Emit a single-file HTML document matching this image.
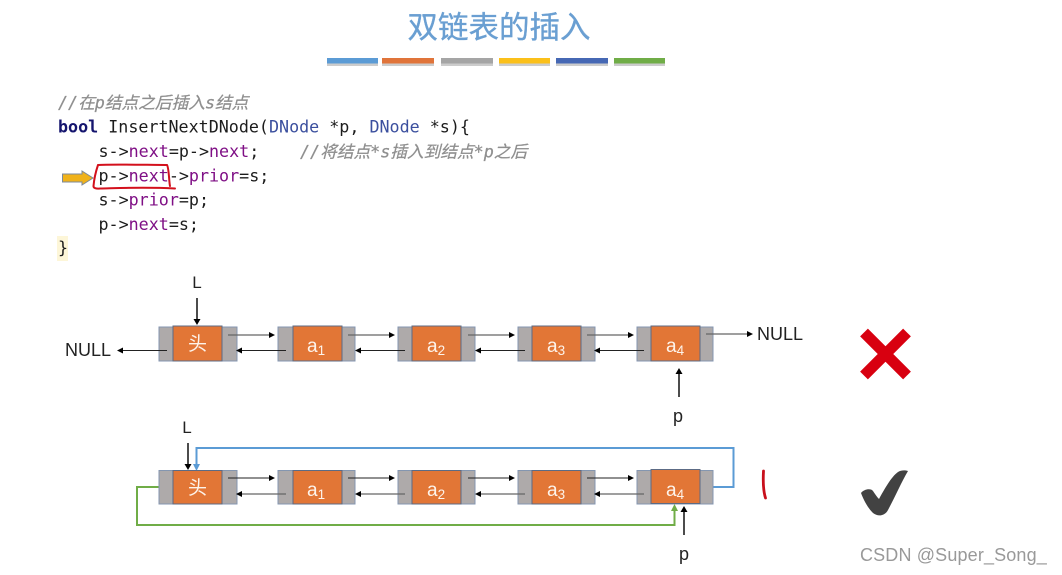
<!DOCTYPE html>
<html><head><meta charset="utf-8"><style>
html,body{margin:0;padding:0;background:#fff}
svg{display:block;filter:blur(.35px)}
.c{font-family:"DejaVu Sans Mono","Noto Sans CJK SC",monospace;font-size:16.7px;fill:#1c1c1c}
.k{fill:#7f0f85}.t{fill:#3b4f9e}
.cm{fill:#8f8f8f;stroke:#8f8f8f;stroke-width:.25}
.i{font-style:italic}
.n{font-family:"Liberation Sans","Noto Sans CJK SC",sans-serif;font-size:18px;fill:#222}
.w{font-family:"Liberation Sans","Noto Sans CJK SC",sans-serif;fill:#fdf3ea;font-size:19px}
.g{fill:#aeaaaa;stroke:#8496b0;stroke-width:1}
.o{fill:#e27636;stroke:#5c6b85;stroke-width:1}
.a{stroke:#222;stroke-width:1.1;fill:none}
.a2{stroke:#666;stroke-width:1.3;fill:none}
.h{fill:#000}
</style></head><body>
<svg width="1062" height="575" viewBox="0 0 1062 575" xmlns="http://www.w3.org/2000/svg">
<rect width="1062" height="575" fill="#fff"/>
<text x="499" y="38" text-anchor="middle" font-family="'Liberation Sans','Noto Sans CJK SC',sans-serif" font-size="30.5" fill="#6a9fd2" stroke="#6a9fd2" stroke-width=".35">双链表的插入</text>
<g>
<rect x="327" y="60" width="51" height="6" fill="#ccc"/><rect x="382" y="60" width="52" height="6" fill="#ccc"/><rect x="441" y="60" width="52" height="6" fill="#ccc"/><rect x="499" y="60" width="51" height="6" fill="#ccc"/><rect x="556" y="60" width="52" height="6" fill="#ccc"/><rect x="614" y="60" width="51" height="6" fill="#ccc"/>
<rect x="327" y="58" width="51" height="5.500" fill="#5b9bd5"/><rect x="382" y="58" width="52" height="5.500" fill="#e0743a"/><rect x="441" y="58" width="52" height="5.500" fill="#a5a5a5"/><rect x="499" y="58" width="51" height="5.500" fill="#fbc01a"/><rect x="556" y="58" width="52" height="5.500" fill="#4668b4"/><rect x="614" y="58" width="51" height="5.500" fill="#70ad47"/>
</g>

<rect x="57" y="236" width="11" height="25" fill="#fdf6d8"/>
<text class="c cm i" x="58" y="108.500" style="font-size:16.700px">//在p结点之后插入s结点</text>
<text class="c" x="58" y="132.500"><tspan style="fill:#15156e;font-weight:bold">bool</tspan> InsertNextDNode(<tspan class="t">DNode</tspan> *p, <tspan class="t">DNode</tspan> *s){</text>
<text class="c" x="98.500" y="157">s-&gt;<tspan class="k">next</tspan>=p-&gt;<tspan class="k">next</tspan>;</text>
<text class="c cm i" x="300" y="157.500" style="font-size:16.700px">//将结点*s插入到结点*p之后</text>
<text class="c" x="98.500" y="181.500">p-&gt;<tspan class="k">next</tspan>-&gt;<tspan class="k">prior</tspan>=s;</text>
<text class="c" x="98.500" y="205.500">s-&gt;<tspan class="k">prior</tspan>=p;</text>
<text class="c" x="98.500" y="230">p-&gt;<tspan class="k">next</tspan>=s;</text>
<text class="c" x="58" y="253.500">}</text>

<path d="M62.500 174H82V171L93 178L82 185V182H62.500Z" fill="#f0b21a" stroke="#7d8a99" stroke-width="1"/>
<path d="M98 165C96 171 94 180 93.500 186C93.300 188 96 189 100 188.500C122 188 145 187 175 188.500M98 165C112 164 150 165 167 165C169 168 169 182 170 186" fill="none" stroke="#d3101c" stroke-width="2" stroke-linecap="round"/>

<g>
<rect class="g" x="159" y="327" width="78" height="34"/><rect class="o" x="173" y="326" width="49" height="35"/>
<rect class="g" x="278" y="327" width="77" height="34"/><rect class="o" x="293" y="326" width="49" height="35"/>
<rect class="g" x="398" y="327" width="77" height="34"/><rect class="o" x="412" y="326" width="49" height="35"/>
<rect class="g" x="518" y="327" width="77" height="34"/><rect class="o" x="532" y="326" width="49" height="35"/>
<rect class="g" x="637" y="327" width="76" height="34"/><rect class="o" x="651" y="326" width="49" height="35"/>
</g>
<text class="w" x="197.500" y="350" text-anchor="middle">头</text>
<text class="w" x="307" y="352">a<tspan font-size="13.500" dy="3">1</tspan></text>
<text class="w" x="427" y="352">a<tspan font-size="13.500" dy="3">2</tspan></text>
<text class="w" x="547" y="352">a<tspan font-size="13.500" dy="3">3</tspan></text>
<text class="w" x="666" y="352">a<tspan font-size="13.500" dy="3">4</tspan></text>

<path class="a2" d="M228 335H270M348 335H390M468 335H510M587 335H629M706 334H748"/>
<path class="h" d="M275 335l-6-3v6zM395 335l-6-3v6zM515 335l-6-3v6zM634 335l-6-3v6zM753 334l-6-3v6z"/>
<path class="a" d="M167 350.500H122M286 350.500H241M405 350.500H360M525 350.500H480M644 350.500H599"/>
<path class="h" d="M117 350.500l6-3v6zM236 350.500l6-3v6zM355 350.500l6-3v6zM475 350.500l6-3v6zM594 350.500l6-3v6z"/>
<path d="M197 298V320" stroke="#111" stroke-width="1.500"/><path class="h" d="M197 325l-3.500-6h7z"/>
<path d="M679 397V373" stroke="#111" stroke-width="1.500"/><path class="h" d="M679 368l-3.500 6h7z"/>
<text class="n" x="197" y="288" text-anchor="middle" style="font-size:17px">L</text>
<text class="n" x="65" y="356">NULL</text>
<text class="n" x="757" y="340">NULL</text>
<text class="n" x="678" y="422" text-anchor="middle">p</text>

<path d="M713 487H733.500V448H196.500V465" fill="none" stroke="#5b9bd5" stroke-width="2"/>
<path style="fill:#5b9bd5" d="M196.500 471l-3.500-7h7z"/>
<path d="M159 487H137V525H674.500V510" fill="none" stroke="#70ad47" stroke-width="2"/>
<path style="fill:#70ad47" d="M674.500 504l-3.500 7h7z"/>

<g>
<rect class="g" x="159" y="470.500" width="78" height="33.500"/><rect class="o" x="173" y="470.500" width="49" height="33.500"/>
<rect class="g" x="278" y="470.500" width="77" height="33.500"/><rect class="o" x="293" y="470.500" width="49" height="33.500"/>
<rect class="g" x="398" y="470.500" width="77" height="33.500"/><rect class="o" x="412" y="470.500" width="49" height="33.500"/>
<rect class="g" x="518" y="470.500" width="77" height="33.500"/><rect class="o" x="532" y="470.500" width="49" height="33.500"/>
<rect class="g" x="637" y="470.500" width="76" height="33.500"/><rect class="o" x="651" y="469.500" width="49" height="34"/>
</g>
<text class="w" x="197.500" y="494" text-anchor="middle">头</text>
<text class="w" x="307" y="496">a<tspan font-size="13.500" dy="3">1</tspan></text>
<text class="w" x="427" y="496">a<tspan font-size="13.500" dy="3">2</tspan></text>
<text class="w" x="547" y="496">a<tspan font-size="13.500" dy="3">3</tspan></text>
<text class="w" x="666" y="496">a<tspan font-size="13.500" dy="3">4</tspan></text>

<path class="a" d="M228 478H270M348 478H390M468 478H510M587 478H629"/>
<path class="h" d="M275 478l-6-3v6zM395 478l-6-3v6zM515 478l-6-3v6zM634 478l-6-3v6z"/>
<path class="a2" d="M286 494H241M405 494H360M525 494H480M644 494H599"/>
<path class="h" d="M236 494l6-3v6zM355 494l6-3v6zM475 494l6-3v6zM594 494l6-3v6z"/>
<path d="M188 443V465" stroke="#111" stroke-width="1.500"/><path class="h" d="M188 470l-3.500-6h7z"/>
<path d="M684 535V511" stroke="#111" stroke-width="1.500"/><path class="h" d="M684 506l-3.500 6h7z"/>
<text class="n" x="187" y="433" text-anchor="middle" style="font-size:17px">L</text>
<text class="n" x="684" y="560" text-anchor="middle">p</text>

<path d="M763.500 471C763 480 763 490 765.500 498" fill="none" stroke="#c8101c" stroke-width="2.800" stroke-linecap="round"/>
<path d="M864 332.500L907 375.500M864 375.500L907 332.500" fill="none" stroke="#d80010" stroke-width="11"/>
<path d="M861 493C864 489 871 488 873 491C875 494 877 497 879 499C885 488 892 476 898 472C901 470 905 470 908 471C902 481 895 497 888 510C885 516 878 517 873 513C868 508 864 501 861 493Z" fill="#424242"/>
<text x="860" y="561" font-family="'Liberation Sans',sans-serif" font-size="18" letter-spacing=".15" fill="#999">CSDN @Super_Song_</text>
</svg>
</body></html>
